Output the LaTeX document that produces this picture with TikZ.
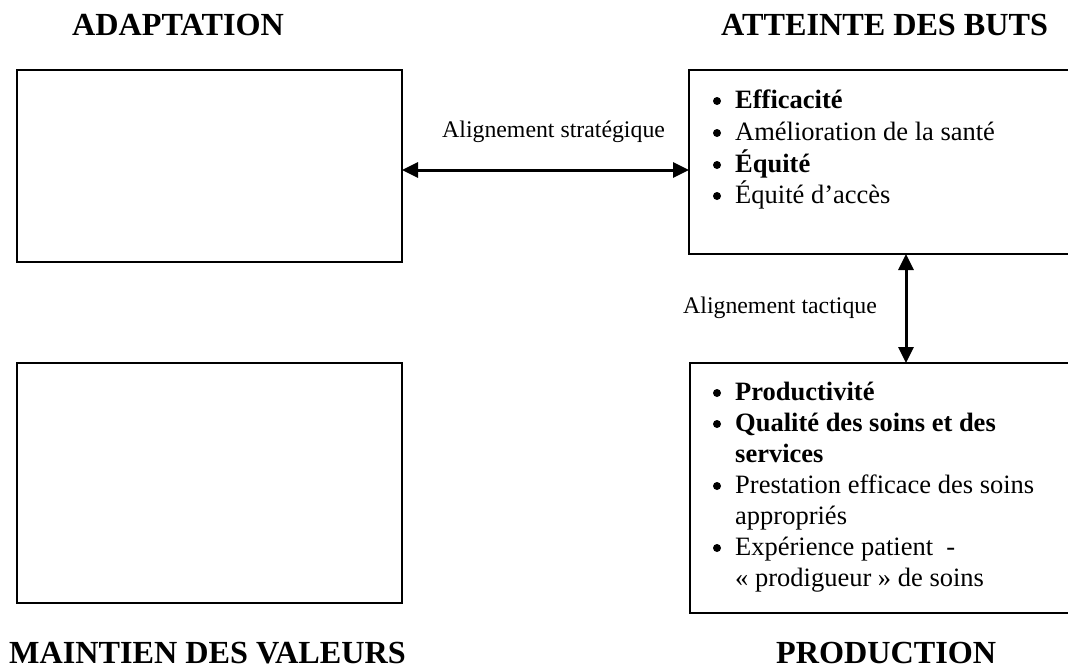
\documentclass[tikz,border=0pt]{standalone}
\usepackage{fontspec}
\setmainfont{Liberation Serif}
\usetikzlibrary{arrows.meta}
\begin{document}
\begin{tikzpicture}[x=1pt,y=-1pt,
  box/.style={draw=black,line width=2pt,rectangle,inner sep=0pt,outer sep=0pt,anchor=north west},
  hdr/.style={font=\fontsize{32.2}{36}\selectfont\bfseries,inner sep=0pt,anchor=base west,text depth=0pt},
  item/.style={font=\fontsize{26.5}{31.7}\selectfont,inner sep=0pt,anchor=base west},
  bitem/.style={item,font=\fontsize{26.5}{31.7}\selectfont\bfseries},
  dot/.style={circle,fill=black,inner sep=0pt,minimum size=8pt},
  lbl/.style={font=\fontsize{23.8}{28}\selectfont,inner sep=0pt,anchor=base west},
  arr/.style={line width=3pt,{Triangle[length=16pt,width=15pt]}-{Triangle[length=16pt,width=15pt]}}]
\useasboundingbox (0,0) rectangle (1068,667);
\clip (0,0) rectangle (1068,667);
% headers
\node[hdr] (hA) at (72,35) {ADAPTATION};
\node[hdr] (hB) at (721,35) {ATTEINTE DES BUTS};
\node[hdr] (hC) at (9,663) {MAINTIEN DES VALEURS};
\node[hdr] (hD) at (776,663) {PRODUCTION};
% boxes
\node[box,minimum width=385pt,minimum height=192pt] (tl) at (17,70) {};
\node[box,minimum width=385pt,minimum height=240pt] (bl) at (17,363) {};
\node[box,minimum width=390pt,minimum height=184pt] (tr) at (689,70) {};
\node[box,minimum width=390pt,minimum height=250pt] (br) at (690,363) {};
% top-right items
\node[dot] (b1) at (717,101) {};
\node[bitem] (t1) at (735,108) {Efficacité};
\node[dot] (b2) at (717,133) {};
\node[item] (t2) at (735,140) {Amélioration de la santé};
\node[dot] (b3) at (717,165) {};
\node[bitem] (t3) at (735,172) {Équité};
\node[dot] (b4) at (717,196) {};
\node[item] (t4) at (735,203) {Équité d’accès};
% bottom-right items
\node[dot] (c1) at (717,393) {};
\node[bitem] (u1) at (735,400) {Productivité};
\node[dot] (c2) at (717,424) {};
\node[bitem] (u2) at (735,431) {Qualité des soins et des};
\node[bitem] (u2b) at (735,462) {services};
\node[dot] (c3) at (717,486) {};
\node[item] (u3) at (735,493) {Prestation efficace des soins};
\node[item] (u3b) at (735,524) {appropriés};
\node[dot] (c4) at (717,548) {};
\node[item] (u4) at (735,555) {Expérience patient\ \ -};
\node[item] (u4b) at (735,586) {« prodigueur » de soins};
% labels
\node[lbl] (ls) at (442,137) {Alignement stratégique};
\node[lbl] (lt) at (683,313) {Alignement tactique};
% connectors
\coordinate (ya) at (0,170);
\coordinate (xa) at (906,0);
\draw[arr] (tl.east |- ya) -- (tr.west |- ya);
\draw[arr] (tr.south -| xa) -- (br.north -| xa);
\end{tikzpicture}
\end{document}
